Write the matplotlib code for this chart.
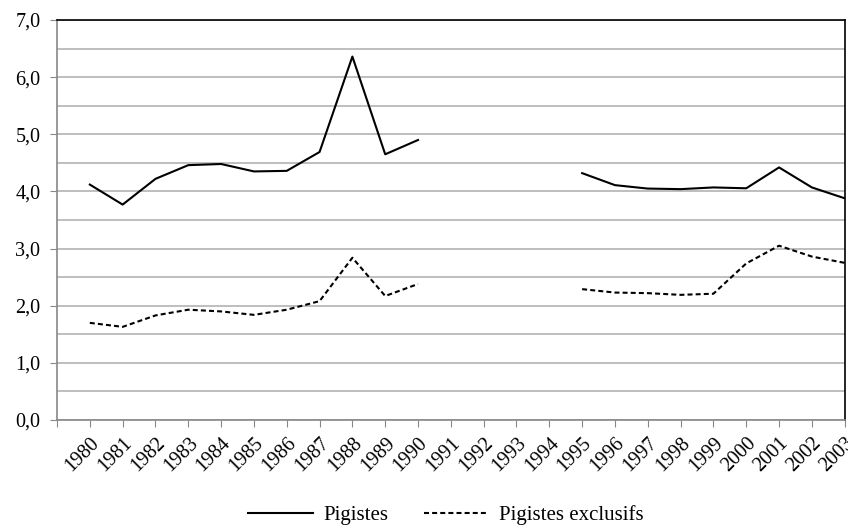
import numpy as np
import matplotlib
matplotlib.use("Agg")
import matplotlib.pyplot as plt
from matplotlib.ticker import MultipleLocator

years = [str(y) for y in range(1980, 2004)]
pigistes = [4.12, 3.77, 4.22, 4.46, 4.48, 4.35, 4.36, 4.69, 6.36, 4.65, 4.90,
            None, None, None, None,
            4.32, 4.11, 4.05, 4.04, 4.07, 4.055, 4.42, 4.07, 3.88]
exclusifs = [1.70, 1.63, 1.83, 1.93, 1.90, 1.84, 1.93, 2.08, 2.84, 2.17, 2.38,
             None, None, None, None,
             2.29, 2.23, 2.22, 2.19, 2.21, 2.74, 3.05, 2.86, 2.75]
yticks = [0, 1, 2, 3, 4, 5, 6, 7]
ytick_labels = ["0,0", "1,0", "2,0", "3,0", "4,0", "5,0", "6,0", "7,0"]

plt.rcParams['font.family'] = ['Liberation Serif', 'DejaVu Serif']

fig = plt.figure(figsize=(8.48, 5.28), dpi=100)
ax = fig.add_axes([57/848, 1 - 420/528, (844.7 - 57)/848, 400/528])

x = np.arange(len(years))
p = np.array([np.nan if v is None else v for v in pigistes], dtype=float)
e = np.array([np.nan if v is None else v for v in exclusifs], dtype=float)

ax.plot(x, p, color='black', lw=1.5, label='Pigistes')
ax.plot(x, e, color='black', lw=1.5, ls=(0, (2.4, 1.5)), label='Pigistes exclusifs')

ax.set_xlim(-1, len(years) - 1)
ax.set_ylim(0, 7)
ax.yaxis.set_minor_locator(MultipleLocator(0.5))
ax.set_yticks(yticks)
ax.set_yticklabels(ytick_labels, fontsize=14.5)
ax.grid(True, axis='y', which='both', color='#b3b3b3', lw=1.2)
ax.set_axisbelow(True)

ax.set_xticks(np.arange(-1, len(years)))
ax.set_xticklabels([''] + years, rotation=45, ha='right', va='top',
                   rotation_mode='anchor', fontsize=14.5)
ax.tick_params(axis='x', length=5, color='#888888', pad=5)
ax.tick_params(axis='y', which='major', length=5, color='#888888', pad=7)
ax.tick_params(axis='y', which='minor', length=0)

for s in ['left', 'bottom']:
    ax.spines[s].set_color('#888888')
    ax.spines[s].set_linewidth(1.2)
for s in ['top', 'right']:
    ax.spines[s].set_color('black')
    ax.spines[s].set_linewidth(1.2)

fig.legend(loc='center', bbox_to_anchor=(446/848, 1 - 515/528), ncol=2,
           frameon=False, fontsize=15, handlelength=3.1, columnspacing=1.7,
           handletextpad=0.5)

fig.savefig('out.png', dpi=100)
